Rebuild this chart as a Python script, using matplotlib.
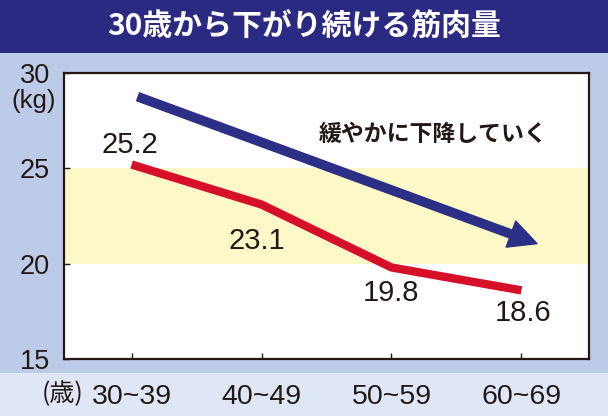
import matplotlib
matplotlib.use("Agg")
import matplotlib.pyplot as plt
from matplotlib import font_manager
from matplotlib.patches import Rectangle, FancyArrowPatch

# ---- data ----
categories = ["30~39", "40~49", "50~59", "60~69"]
values = [25.2, 23.1, 19.8, 18.6]
value_labels = ["25.2", "23.1", "19.8", "18.6"]
y_ticks = [15, 20, 25, 30]
band = [20, 25]
trend_start = [0.05, 28.75]
trend_end = [3.12, 21.05]
title = "30歳から下がり続ける筋肉量"
trend_text = "緩やかに下降していく"

avail = {f.name for f in font_manager.fontManager.ttflist}
latin = "Liberation Sans" if "Liberation Sans" in avail else "DejaVu Sans"
cjk = "Noto Sans CJK JP"
plt.rcParams['font.family'] = [latin, cjk, "DejaVu Sans"]

dark = "#231815"
navy = "#2a2a82"
red = "#d7102a"
blue = "#2b2f86"

fig = plt.figure(figsize=(6.08, 4.16), dpi=100)
W, H = 608, 416
def fy(px):
    return 1 - px / H

# backgrounds
bg = fig.add_axes([0, 0, 1, 1], zorder=-5)
bg.set_axis_off()
bg.set_xlim(0, 1); bg.set_ylim(0, 1)
bg.add_patch(Rectangle((0, 0), 1, fy(373), color="#dfe6f5", lw=0))
bg.add_patch(Rectangle((0, fy(373)), 1, fy(53) - fy(373), color="#bccbe8", lw=0))
bg.add_patch(Rectangle((0, fy(53)), 1, 1 - fy(53), color=navy, lw=0))

fig.text(0.5, fy(27), title, color="white", fontsize=21.5, fontweight="bold",
         family=[cjk], ha="center", va="center")

ax = fig.add_axes([64 / W, fy(359), (589 - 64) / W, fy(73) - fy(359)], zorder=1)
ax.set_facecolor("white")
x = list(range(len(categories)))
ax.set_xlim(-0.52, 3.52)
ax.set_ylim(15, 30)
ax.axhspan(band[0], band[1], color="#fdf8c8", zorder=0, lw=0)

ax.plot(x, values, color=red, lw=6, solid_joinstyle="round", solid_capstyle="butt", zorder=3)

arrow = FancyArrowPatch(tuple(trend_start), tuple(trend_end),
                        arrowstyle="simple,head_length=2.0,head_width=2.0,tail_width=0.6",
                        mutation_scale=10, color=blue, shrinkA=0, shrinkB=0, zorder=3)
ax.add_patch(arrow)

offsets = [(-2, 20), (-5, -36), (0, -26), (2, -23)]
for xi, v, lab, off in zip(x, values, value_labels, offsets):
    ax.annotate(lab, (xi, v), xytext=off, textcoords="offset pixels",
                ha="center", va="center", fontsize=21, color=dark, zorder=4)

ax.text(2.32, 26.8, trend_text, fontsize=16.5, fontweight="bold", family=[cjk],
        color=dark, ha="center", va="center", zorder=4)

ax.set_xticks(x)
ax.set_xticklabels(categories)
ax.set_yticks(y_ticks)
ax.set_yticklabels([str(t) for t in y_ticks])
ax.tick_params(axis="both", direction="in", length=4, width=1, colors=dark, labelcolor=dark)
ax.tick_params(axis="x", labelsize=20.5, pad=18)
ax.tick_params(axis="y", labelsize=19.5, pad=10)
for s in ax.spines.values():
    s.set_color(dark)
    s.set_linewidth(1.6)

fig.text(34 / W, fy(101), "(kg)", fontsize=18.5, color=dark, ha="center", va="center")
fig.text(63 / W, fy(394), "(歳)", fontsize=18, color=dark, ha="center", va="center",
         family=[cjk, "DejaVu Sans"])

fig.savefig("out.png", dpi=100)
